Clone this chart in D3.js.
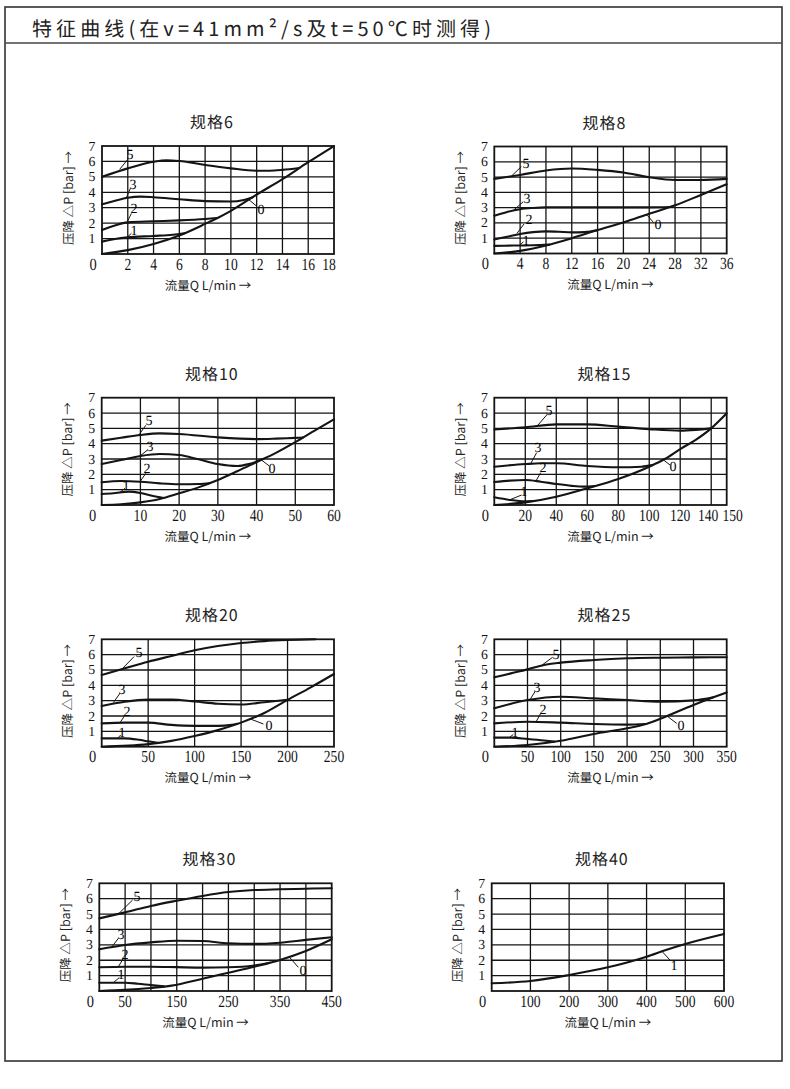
<!DOCTYPE html>
<html><head><meta charset="utf-8">
<script src="https://cdn.jsdelivr.net/npm/d3@7"></script>
<style>body{margin:0;background:#fff} text{text-rendering:geometricPrecision;-webkit-font-smoothing:antialiased}</style>
</head><body>
<svg id="c" width="790" height="1089"></svg>
<script>
// ---------- data ----------
const headerText = "特征曲线(在v=41mm²/s及t=50℃时测得)";
const titles = ["规格6","规格8","规格10","规格15","规格20","规格25","规格30","规格40"];
const xMax = [18, 36, 60, 150, 250, 350, 450, 600];
const gridStep = [2, 4, 10, 20, 50, 50, 50, 100];
const yTicks = [1,2,3,4,5,6,7];
const xTicks6 = [2,4,6,8,10,12,14,16,18];
const xTicks8 = [4,8,12,16,20,24,28,32,36];
const xTicks10 = [10,20,30,40,50,60];
const xTicks15 = [20,40,60,80,100,120,140,150];
const xTicks20 = [50,100,150,200,250];
const xTicks25 = [50,100,150,200,250,300,350];
const xTicks30 = [50,150,250,350,450];
const xTicks40 = [100,200,300,400,500,600];
const yTitle = "压降 △P [bar] →";
const xTitle = "流量Q L/min →";

// curves: [Q, Δp]
const s6_c0 = [[0,0],[2,0.25],[4,0.65],[6,1.2],[8,1.95],[9,2.35],[10,2.8],[12,3.85],[14,4.85],[16,5.95],[18,7.0]];
const s6_c1 = [[0,0.8],[1,0.97],[2,1.08],[4,1.17],[5.5,1.25],[6.4,1.35]];
const s6_c2 = [[0,1.55],[1,1.85],[2,2.05],[4,2.12],[6,2.18],[8,2.27],[8.9,2.33]];
const s6_c3 = [[0,3.22],[1,3.45],[2,3.65],[3,3.72],[4,3.68],[6,3.55],[8,3.43],[10,3.4],[11,3.5],[11.7,3.68]];
const s6_c5 = [[0,5.0],[2,5.55],[4,5.98],[5,6.08],[6,6.03],[8,5.77],[10,5.55],[12,5.4],[13,5.4],[14,5.45],[15.3,5.57]];

const s8_c0 = [[0,0],[4,0.17],[8,0.52],[12,1.0],[16,1.53],[20,2.03],[24,2.6],[28,3.15],[32,3.83],[36,4.53]];
const s8_c1 = [[0,0.5],[3,0.52],[6,0.54],[8.5,0.58]];
const s8_c2 = [[0,0.92],[2,1.1],[4,1.28],[6,1.4],[8,1.45],[10,1.42],[12,1.38],[14,1.4],[16,1.53]];
const s8_c3 = [[0,2.47],[2,2.72],[4,2.9],[6,2.98],[8,3.02],[16,3.02],[24,3.02],[27.2,3.04]];
const s8_c5 = [[0,4.88],[4,5.14],[8,5.43],[12,5.56],[16,5.47],[20,5.3],[24,4.99],[28,4.81],[32,4.81],[36,4.88]];

const s10_c0 = [[0,0],[5,0.05],[10,0.17],[15,0.39],[20,0.76],[25,1.15],[30,1.63],[35,2.2],[40,2.8],[45,3.4],[50,4.1],[55,4.85],[60,5.59]];
const s10_c1 = [[0,0.72],[3,0.77],[7,0.87],[10,0.78],[13,0.6],[16,0.46]];
const s10_c2 = [[0,1.48],[5,1.57],[10,1.52],[15,1.41],[20,1.35],[25,1.37],[28,1.44]];
const s10_c3 = [[0,2.67],[5,2.93],[10,3.2],[15,3.33],[20,3.26],[25,2.98],[30,2.67],[35,2.54],[38,2.67],[41.5,2.98]];
const s10_c5 = [[0,4.2],[5,4.39],[10,4.57],[15,4.67],[20,4.63],[30,4.41],[40,4.3],[45,4.33],[50,4.38],[52,4.4]];

const s15_c0 = [[0,0],[20,0.17],[40,0.54],[60,1.09],[80,1.7],[100,2.5],[110,3.0],[120,3.65],[130,4.25],[140,5.0],[150,5.98]];
const s15_c1 = [[0,0.5],[10,0.33],[20,0.24],[25,0.26]];
const s15_c2 = [[0,1.5],[10,1.59],[20,1.63],[30,1.52],[40,1.37],[50,1.25],[58,1.2],[65,1.24]];
const s15_c3 = [[0,2.5],[20,2.67],[30,2.72],[40,2.72],[60,2.54],[80,2.46],[95,2.5],[102,2.6]];
const s15_c5 = [[0,4.93],[20,5.07],[40,5.26],[60,5.26],[80,5.11],[100,4.95],[120,4.85],[130,4.9],[140,5.0]];

const s20_c0 = [[0,0],[50,0.17],[75,0.38],[100,0.7],[125,1.08],[150,1.57],[175,2.2],[200,3.05],[225,3.87],[250,4.74]];
const s20_c1 = [[0,0.54],[25,0.54],[40,0.45],[50,0.35],[60,0.26]];
const s20_c2 = [[0,1.52],[25,1.57],[50,1.57],[75,1.42],[100,1.36],[125,1.36],[140,1.42],[146,1.49]];
const s20_c3 = [[0,2.65],[25,2.93],[50,3.07],[75,3.08],[100,2.95],[125,2.8],[150,2.75],[175,2.9],[200,3.05]];
const s20_c5 = [[0,4.67],[25,5.11],[50,5.54],[75,5.91],[100,6.28],[125,6.56],[150,6.76],[175,6.88],[200,6.95],[230,7.0]];

const s25_c0 = [[0,0],[50,0.11],[100,0.39],[150,0.83],[200,1.2],[230,1.5],[250,1.82],[300,2.72],[330,3.22],[350,3.54]];
const s25_c1 = [[0,0.59],[25,0.59],[50,0.5],[75,0.4],[90,0.33]];
const s25_c2 = [[0,1.52],[50,1.63],[100,1.57],[150,1.48],[200,1.44],[228,1.48]];
const s25_c3 = [[0,2.5],[50,3.04],[100,3.26],[150,3.15],[200,3.04],[250,2.93],[300,3.02],[330,3.22]];
const s25_c5 = [[0,4.52],[25,4.78],[50,5.04],[75,5.33],[100,5.48],[150,5.65],[200,5.76],[250,5.8],[300,5.82],[350,5.83]];

const s30_c0 = [[0,0],[50,0.07],[100,0.2],[140,0.35],[200,0.8],[250,1.19],[300,1.58],[350,2.02],[400,2.6],[450,3.36]];
const s30_c1 = [[0,0.54],[50,0.54],[75,0.47],[100,0.38],[125,0.3]];
const s30_c2 = [[0,1.54],[50,1.58],[100,1.58],[150,1.55],[200,1.52],[250,1.54],[300,1.66],[330,1.84]];
const s30_c3 = [[0,2.71],[50,2.99],[100,3.16],[150,3.27],[200,3.25],[250,3.1],[300,3.06],[350,3.14],[400,3.32],[450,3.49]];
const s30_c5 = [[0,4.72],[50,5.11],[100,5.53],[150,5.87],[200,6.18],[250,6.43],[300,6.56],[350,6.61],[400,6.65],[450,6.68]];

const s40_c1 = [[0,0.5],[100,0.65],[200,1.04],[300,1.54],[400,2.23],[450,2.67],[500,3.06],[600,3.71]];

// curve labels: [text, curveQ, curveΔp, leaderEndQ, leaderEndΔp, textQ, textΔp]
const s6_labels = [["5",1.37,5.49,2.0,6.13,2.15,6.41],["3",1.9,3.67,2.2,4.25,2.4,4.5],["2",1.97,2.1,2.28,2.63,2.46,2.9],["1",2.0,1.12,2.28,1.34,2.46,1.5],["0",11.35,3.55,12.0,3.1,12.3,2.85]];
const s8_labels = [["5",2.7,5.08,4.2,5.69,4.9,5.84],["3",2.9,2.8,4.5,3.39,5.1,3.59],["2",3.5,1.31,4.6,1.93,5.3,2.19],["1",4.0,0.55,4.5,0.77,4.9,0.83],["0",23.7,2.5,24.7,2.01,25.3,1.86]];
const s10_labels = [["5",9.6,4.57,11.4,5.2,12.3,5.48],["3",9.9,3.2,11.8,3.58,12.5,3.76],["2",9.9,1.52,11.4,2.07,11.8,2.33],["1",4.6,0.8,6.0,1.09,6.3,1.24],["0",41.3,2.93,43.3,2.54,44.1,2.33]];
const s15_labels = [["5",27.8,5.17,33.8,5.87,35.5,6.15],["3",23.5,2.7,27.3,3.41,28.4,3.7],["2",26.9,1.57,29.9,2.11,31.2,2.39],["1",9.7,0.33,17.6,0.65,19.2,0.83],["0",109.1,2.95,113.4,2.61,115.1,2.46]];
const s20_labels = [["5",21.5,5.04,34.8,5.87,39.8,6.13],["3",12.6,2.88,19.7,3.48,22.2,3.7],["2",19.7,1.56,25.1,2.07,26.9,2.28],["1",16.9,0.54,20.4,0.76,21.5,0.87],["0",160.3,1.8,174,1.48,180.4,1.35]];
const s25_labels = [["5",71.3,5.3,87.9,5.83,92.9,5.98],["3",53.7,3.06,61.3,3.59,64.8,3.8],["2",62.8,1.61,69.8,2.17,72.8,2.39],["1",22.6,0.59,28.6,0.8,31.1,0.91],["0",260.7,1.98,274.7,1.52,281.3,1.35]];
const s30_labels = [["5",36.8,5.0,64.6,5.92,72.3,6.09],["3",23.9,2.85,36.8,3.42,41.3,3.64],["2",36.8,1.57,46.5,2.12,49.7,2.34],["1",27.1,0.54,38.7,0.87,41.3,1.04],["0",368,2.2,385.4,1.54,393.8,1.32]];
const s40_labels = [["1",438.9,2.6,462,1.97,470.7,1.63]];

// ---------- layout (pixels) ----------
const layout = [
  {L:102, T:146, W:232, H:108},
  {L:494.3, T:146.5, W:232.4, H:107},
  {L:101.7, T:397.7, W:232.3, H:107.3},
  {L:494.3, T:397.7, W:232.4, H:107.3},
  {L:101.7, T:639.3, W:232.3, H:107.4},
  {L:494.3, T:639.3, W:232.4, H:107.4},
  {L:99.3, T:883.3, W:232.4, H:107.7},
  {L:491.7, T:883.3, W:232.3, H:107.7}
];
// small pixel nudges of crowded x tick labels (chart index -> {tick: dx})
const tickNudge = {0:{18:-5}, 3:{140:-3, 150:6}};

const charts = [
  {ticks:xTicks6,  curves:[s6_c0,s6_c1,s6_c2,s6_c3,s6_c5], labels:s6_labels},
  {ticks:xTicks8,  curves:[s8_c0,s8_c1,s8_c2,s8_c3,s8_c5], labels:s8_labels},
  {ticks:xTicks10, curves:[s10_c0,s10_c1,s10_c2,s10_c3,s10_c5], labels:s10_labels},
  {ticks:xTicks15, curves:[s15_c0,s15_c1,s15_c2,s15_c3,s15_c5], labels:s15_labels},
  {ticks:xTicks20, curves:[s20_c0,s20_c1,s20_c2,s20_c3,s20_c5], labels:s20_labels},
  {ticks:xTicks25, curves:[s25_c0,s25_c1,s25_c2,s25_c3,s25_c5], labels:s25_labels},
  {ticks:xTicks30, curves:[s30_c0,s30_c1,s30_c2,s30_c3,s30_c5], labels:s30_labels},
  {ticks:xTicks40, curves:[s40_c1], labels:s40_labels}
];

const svg = d3.select("#c");
const INK = "#141414";
const SERIF = "'Liberation Serif','DejaVu Serif',serif";
const SANS = "'Noto Sans CJK SC','Noto Sans',sans-serif";

// page frame
svg.append("rect").attr("x",5).attr("y",7).attr("width",777).attr("height",1054)
  .attr("fill","none").attr("stroke","#333").attr("stroke-width",1.6);
svg.append("line").attr("x1",5).attr("x2",782).attr("y1",43).attr("y2",43)
  .attr("stroke","#444").attr("stroke-width",1.3);
svg.append("text").attr("x",32).attr("y",35.5).text(headerText)
  .attr("font-family",SANS).attr("font-size",20).attr("letter-spacing",4.1).attr("fill","#222");

function serifText(g, px, py, str, size, anchor, sx){
  g.append("g").attr("transform",`translate(${px},${py})`)
    .append("text").attr("transform",`scale(${sx},1)`)
    .attr("text-anchor",anchor).attr("dominant-baseline","central")
    .attr("font-family",SERIF).attr("font-size",size).attr("fill",INK).text(str);
}

charts.forEach((c,i)=>{
  const {L,T,W,H} = layout[i];
  const g = svg.append("g");
  const x = d3.scaleLinear().domain([0,xMax[i]]).range([L,L+W]);
  const y = d3.scaleLinear().domain([0,7]).range([T+H,T]);

  // grid
  const vx = d3.range(gridStep[i], xMax[i]-1e-9, gridStep[i]);
  g.selectAll(".v").data(vx).join("line")
    .attr("x1",d=>x(d)).attr("x2",d=>x(d)).attr("y1",T).attr("y2",T+H)
    .attr("stroke",INK).attr("stroke-width",1.3);
  g.selectAll(".h").data(d3.range(1,7)).join("line")
    .attr("x1",L).attr("x2",L+W).attr("y1",d=>y(d)).attr("y2",d=>y(d))
    .attr("stroke",INK).attr("stroke-width",1.3);
  g.append("rect").attr("x",L).attr("y",T).attr("width",W).attr("height",H)
    .attr("fill","none").attr("stroke",INK).attr("stroke-width",1.8);

  // tick labels
  yTicks.forEach(v=>serifText(g, L-6.5, y(v), String(v), 13.8, "end", 1.0));
  serifText(g, L-9, T+H+10, "0", 17, "middle", 0.85);
  const nud = tickNudge[i] || {};
  c.ticks.forEach(v=>serifText(g, x(v)+(nud[v]||0), T+H+10, String(v), 17, "middle", 0.8));

  // titles
  const cx = L+W/2;
  g.append("text").attr("x",cx-6).attr("y",T-25).attr("text-anchor","middle")
    .attr("dominant-baseline","central").attr("font-family",SANS).attr("font-size",16)
    .attr("letter-spacing",1).attr("fill","#222").text(titles[i]);
  g.append("text").attr("transform",`translate(${L-35},${T+H/2-2}) rotate(-90)`)
    .attr("text-anchor","middle").attr("dominant-baseline","central")
    .attr("font-family",SANS).attr("font-size",12.5).attr("fill","#222").text(yTitle);
  g.append("text").attr("x", i%2===0 ? cx-10 : cx).attr("y",T+H+30).attr("text-anchor","middle")
    .attr("dominant-baseline","central").attr("font-family",SANS).attr("font-size",12.5)
    .attr("fill","#222").text(xTitle);

  // curves
  const line = d3.line().x(d=>x(d[0])).y(d=>y(d[1])).curve(d3.curveMonotoneX);
  g.selectAll(".crv").data(c.curves).join("path")
    .attr("d",line).attr("fill","none").attr("stroke",INK)
    .attr("stroke-width",2.1).attr("stroke-linejoin","round").attr("stroke-linecap","round");

  // curve labels
  c.labels.forEach(([t,x1,y1,x2,y2,tx,ty])=>{
    g.append("line").attr("x1",x(x1)).attr("y1",y(y1)).attr("x2",x(x2)).attr("y2",y(y2))
      .attr("stroke",INK).attr("stroke-width",1);
    g.append("text").attr("x",Math.round(x(tx))).attr("y",Math.round(y(ty)))
      .attr("text-anchor","middle").attr("dominant-baseline","central")
      .attr("font-family",SERIF).attr("font-size",14).attr("fill","#000").text(t);
  });
});
</script>
</body></html>
